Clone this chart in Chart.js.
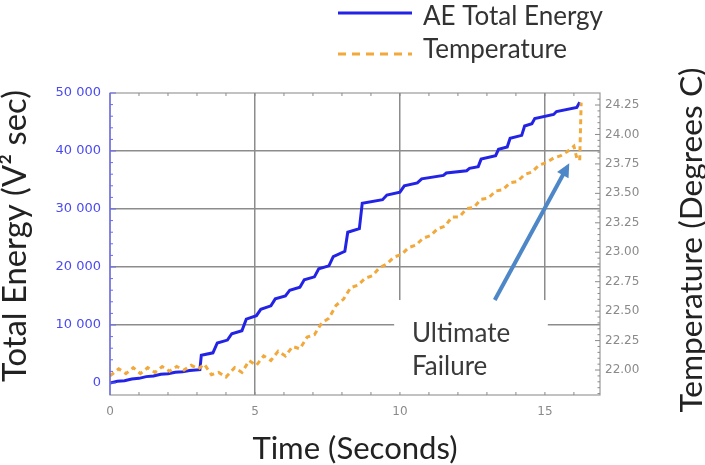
<!DOCTYPE html>
<html>
<head>
<meta charset="utf-8">
<script src="https://cdn.jsdelivr.net/npm/chart.js@4/dist/chart.umd.min.js"></script>
<style>
  html, body { margin: 0; padding: 0; background: #fff; }
  #wrap { width: 705px; height: 465px; }
</style>
</head>
<body>
<div id="wrap"><canvas id="aeChart" width="705" height="465"></canvas></div>
<script>
// AE total energy (staircase)
const energyTime = [0, 0.25, 0.5, 0.75, 1.0, 1.25, 1.5, 1.75, 2.0, 2.25, 2.5, 2.75, 3.1, 3.15, 3.55, 3.7, 4.05, 4.2, 4.55, 4.7, 5.05, 5.2, 5.55, 5.7, 6.05, 6.2, 6.55, 6.7, 7.05, 7.2, 7.55, 7.7, 8.1, 8.2, 8.6, 8.7, 9.4, 9.55, 10.0, 10.15, 10.6, 10.75, 11.5, 11.6, 12.3, 12.4, 12.7, 12.8, 13.3, 13.4, 13.7, 13.8, 14.2, 14.3, 14.55, 14.65, 15.3, 15.4, 16.1, 16.2];
const energyValues = [0, 300, 400, 700, 800, 1100, 1200, 1500, 1600, 1850, 1950, 2150, 2300, 4800, 5200, 6900, 7400, 8500, 9000, 11000, 11600, 12700, 13300, 14500, 15000, 16000, 16500, 17800, 18300, 19700, 20200, 21800, 22700, 26000, 26600, 31000, 31600, 32400, 32900, 34000, 34500, 35200, 35800, 36200, 36600, 37000, 37300, 38600, 39200, 40300, 40700, 42200, 42700, 44300, 44700, 45600, 46300, 46800, 47500, 48400];

// temperature (wavy), right axis
const tempTime = [0, 0.3, 0.55, 0.8, 1.05, 1.3, 1.55, 1.8, 2.05, 2.3, 2.55, 2.8, 3.05, 3.25, 3.5, 3.75, 4.0, 4.3, 4.55, 4.8, 5.05, 5.3, 5.55, 5.8, 6.05, 6.3, 6.55, 6.8, 7.05, 7.3, 7.55, 7.8, 8.05, 8.3, 8.55, 8.8, 9.05, 9.3, 9.55, 9.8, 10.05, 10.3, 10.55, 10.8, 11.05, 11.3, 11.55, 11.8, 12.05, 12.3, 12.55, 12.8, 13.05, 13.3, 13.55, 13.8, 14.05, 14.3, 14.55, 14.8, 15.05, 15.3, 15.55, 15.8, 16.0, 16.1, 16.2, 16.25];
const tempValues = [21.95, 22.01, 21.97, 22.02, 21.97, 22.02, 21.98, 22.03, 21.99, 22.03, 22.0, 22.04, 22.01, 22.05, 21.96, 21.98, 21.94, 22.02, 21.98, 22.08, 22.04, 22.12, 22.08, 22.16, 22.12, 22.2, 22.18, 22.28, 22.3, 22.4, 22.44, 22.55, 22.6, 22.7, 22.72, 22.78, 22.8, 22.87, 22.9, 22.96, 22.98, 23.04, 23.06, 23.12, 23.14, 23.2, 23.22, 23.3, 23.3, 23.37, 23.38, 23.45, 23.46, 23.52, 23.53, 23.59, 23.6, 23.66, 23.68, 23.74, 23.76, 23.8, 23.82, 23.86, 23.9, 23.8, 23.78, 24.27];

const timeTicks = [0, 5, 10, 15];
const energyTicks = [0, 10000, 20000, 30000, 40000, 50000];
const tempTicks = [22.0, 22.25, 22.5, 22.75, 23.0, 23.25, 23.5, 23.75, 24.0, 24.25];

const seriesNames = ["AE Total Energy", "Temperature"];
const axisTitles = { x: "Time (Seconds)", y: "Total Energy (V\u00b2 sec)", y2: "Temperature (Degrees C)" };
const noteLines = ["Ultimate", "Failure"];
// arrow [time, energy] tail -> head
const arrowFrom = [13.27, 14300];
const arrowTo = [15.84, 37900];

const BLUE = "#2323e6";
const ORANGE = "#f2a93b";
const GRID = "#8c8c8c";
const TITLE_FONT = "Lato, 'Open Sans', sans-serif";

const toXY = (xs, ys) => xs.map((x, i) => ({ x: x, y: ys[i] }));

function fitFont(ctx, text, width, family) {
    ctx.font = "100px " + family;
    const size = 100 * width / ctx.measureText(text).width;
    return size.toFixed(1) + "px " + family;
}

const decorations = {
    id: "decorations",
    beforeDatasetsDraw(chart) {
        // white patch behind the "Ultimate Failure" note
        const { ctx, chartArea, scales } = chart;
        const x0 = scales.x.getPixelForValue(9.8);
        const x1 = scales.x.getPixelForValue(15.1);
        const y0 = scales.y.getPixelForValue(14300);
        ctx.save();
        ctx.fillStyle = "#fff";
        ctx.fillRect(x0, y0, x1 - x0, chartArea.bottom - y0);
        ctx.restore();
    },
    afterDatasetsDraw(chart) {
        const { ctx, chartArea: a, scales } = chart;
        ctx.save();
        // frame
        ctx.strokeStyle = "#9a9a9a";
        ctx.lineWidth = 1.2;
        ctx.strokeRect(a.left, a.top, a.right - a.left, a.bottom - a.top);
        ctx.strokeStyle = "#5b5bf0";
        ctx.beginPath();
        ctx.moveTo(a.left, a.top);
        ctx.lineTo(a.left, a.bottom);
        ctx.stroke();

        // minor ticks
        ctx.lineWidth = 1;
        ctx.strokeStyle = "#6a6af0";
        for (let v = 0; v <= 50000; v += 2000) {
            const y = scales.y.getPixelForValue(v);
            const len = v % 10000 === 0 ? 6 : 3;
            ctx.beginPath();
            ctx.moveTo(a.left, y);
            ctx.lineTo(a.left + len, y);
            ctx.stroke();
        }
        ctx.strokeStyle = "#8a8a8a";
        for (let v = 21.8; v <= 24.35; v += 0.05) {
            const y = scales.y2.getPixelForValue(v);
            const major = Math.abs(v * 4 - Math.round(v * 4)) < 0.01;
            ctx.beginPath();
            ctx.moveTo(a.right, y);
            ctx.lineTo(a.right - (major ? 5 : 2.5), y);
            ctx.stroke();
        }
        for (let t = 1; t <= 16; t++) {
            const x = scales.x.getPixelForValue(t);
            ctx.beginPath();
            ctx.moveTo(x, a.bottom);
            ctx.lineTo(x, a.bottom - 3);
            ctx.moveTo(x, a.top);
            ctx.lineTo(x, a.top + 3);
            ctx.stroke();
        }

        // arrow
        const tx = scales.x.getPixelForValue(arrowFrom[0]);
        const ty = scales.y.getPixelForValue(arrowFrom[1]);
        const hx = scales.x.getPixelForValue(arrowTo[0]);
        const hy = scales.y.getPixelForValue(arrowTo[1]);
        const ang = Math.atan2(hy - ty, hx - tx);
        const headLen = 15;
        ctx.strokeStyle = "#4d87c7";
        ctx.fillStyle = "#4d87c7";
        ctx.lineWidth = 4;
        ctx.beginPath();
        ctx.moveTo(tx, ty);
        ctx.lineTo(hx - Math.cos(ang) * headLen * 0.8, hy - Math.sin(ang) * headLen * 0.8);
        ctx.stroke();
        ctx.beginPath();
        ctx.moveTo(hx, hy);
        ctx.lineTo(hx - headLen * Math.cos(ang - 0.45), hy - headLen * Math.sin(ang - 0.45));
        ctx.lineTo(hx - headLen * Math.cos(ang + 0.45), hy - headLen * Math.sin(ang + 0.45));
        ctx.closePath();
        ctx.fill();

        // note
        ctx.fillStyle = "#3a3a3a";
        ctx.font = "26px " + TITLE_FONT;
        ctx.textAlign = "left";
        ctx.textBaseline = "alphabetic";
        ctx.fillText(noteLines[0], 412, 342);
        ctx.fillText(noteLines[1], 412, 375);
        ctx.restore();
    },
    afterDraw(chart) {
        const { ctx } = chart;
        ctx.save();
        ctx.fillStyle = "#222";
        ctx.textAlign = "center";
        ctx.textBaseline = "alphabetic";

        ctx.font = fitFont(ctx, axisTitles.x, 205, TITLE_FONT);
        ctx.fillText(axisTitles.x, 355, 459);

        ctx.save();
        ctx.translate(26, 236);
        ctx.rotate(-Math.PI / 2);
        ctx.font = fitFont(ctx, axisTitles.y, 292, TITLE_FONT);
        ctx.fillText(axisTitles.y, 0, 0);
        ctx.restore();

        ctx.save();
        ctx.translate(702, 240);
        ctx.rotate(-Math.PI / 2);
        ctx.font = fitFont(ctx, axisTitles.y2, 345, TITLE_FONT);
        ctx.fillText(axisTitles.y2, 0, 0);
        ctx.restore();

        // legend
        ctx.lineWidth = 3;
        ctx.strokeStyle = BLUE;
        ctx.beginPath();
        ctx.moveTo(338, 13);
        ctx.lineTo(412, 13);
        ctx.stroke();
        ctx.strokeStyle = ORANGE;
        ctx.setLineDash([8, 6]);
        ctx.beginPath();
        ctx.moveTo(338, 54);
        ctx.lineTo(412, 54);
        ctx.stroke();
        ctx.setLineDash([]);
        ctx.textAlign = "left";
        ctx.fillStyle = "#333";
        ctx.font = "26px " + TITLE_FONT;
        ctx.fillText(seriesNames[0], 423, 25);
        ctx.fillText(seriesNames[1], 423, 58);
        ctx.restore();
    }
};

const ctx = document.getElementById("aeChart").getContext("2d");

const aeChart = new Chart(ctx, {
    type: "line",
    data: {
        datasets: [
            {
                label: seriesNames[1],
                data: toXY(tempTime, tempValues),
                yAxisID: "y2",
                borderColor: ORANGE,
                borderWidth: 3,
                borderDash: [5, 4],
                pointRadius: 0,
                tension: 0,
                fill: false,
            },
            {
                label: seriesNames[0],
                data: toXY(energyTime, energyValues),
                yAxisID: "y",
                borderColor: BLUE,
                borderWidth: 3,
                pointRadius: 0,
                tension: 0,
                fill: false,
            },
        ],
    },
    options: {
        responsive: false,
        animation: false,
        devicePixelRatio: 1,
        layout: { padding: { top: 93, left: 0, right: 0, bottom: 0 } },
        plugins: {
            legend: { display: false },
            tooltip: { enabled: false },
        },
        scales: {
            x: {
                type: "linear",
                position: "bottom",
                min: 0,
                max: 16.9,
                afterFit: (s) => { s.height = 70; },
                afterBuildTicks: (s) => { s.ticks = timeTicks.map((v) => ({ value: v })); },
                border: { display: false },
                grid: {
                    drawTicks: false,
                    lineWidth: 1.5,
                    color: (c) => (c.tick && c.tick.value === 0 ? "rgba(0,0,0,0)" : GRID),
                },
                ticks: {
                    color: "#8a8a8a",
                    padding: 10,
                    maxRotation: 0,
                    font: { family: "'DejaVu Sans'", size: 12 },
                },
            },
            y: {
                type: "linear",
                position: "left",
                min: -2070,
                max: 50000,
                afterFit: (s) => { s.width = 110; },
                afterBuildTicks: (s) => { s.ticks = energyTicks.map((v) => ({ value: v })); },
                border: { display: false },
                grid: {
                    drawTicks: false,
                    lineWidth: 1.5,
                    color: (c) => (c.tick && (c.tick.value === 0 || c.tick.value === 50000) ? "rgba(0,0,0,0)" : GRID),
                },
                ticks: {
                    color: "#4a4af2",
                    padding: 9,
                    font: { family: "'DejaVu Sans'", size: 13 },
                    callback: (v) => (v === 0 ? "0" : v / 1000 + " 000"),
                },
            },
            y2: {
                type: "linear",
                position: "right",
                min: 21.788,
                max: 24.352,
                afterFit: (s) => { s.width = 105; },
                afterBuildTicks: (s) => { s.ticks = tempTicks.map((v) => ({ value: v })); },
                border: { display: false },
                grid: { display: false, drawTicks: false },
                ticks: {
                    color: "#8a8a8a",
                    padding: 5,
                    font: { family: "'DejaVu Sans'", size: 12 },
                    callback: (v) => v.toFixed(2),
                },
            },
        },
    },
    plugins: [decorations],
});
</script>
</body>
</html>
